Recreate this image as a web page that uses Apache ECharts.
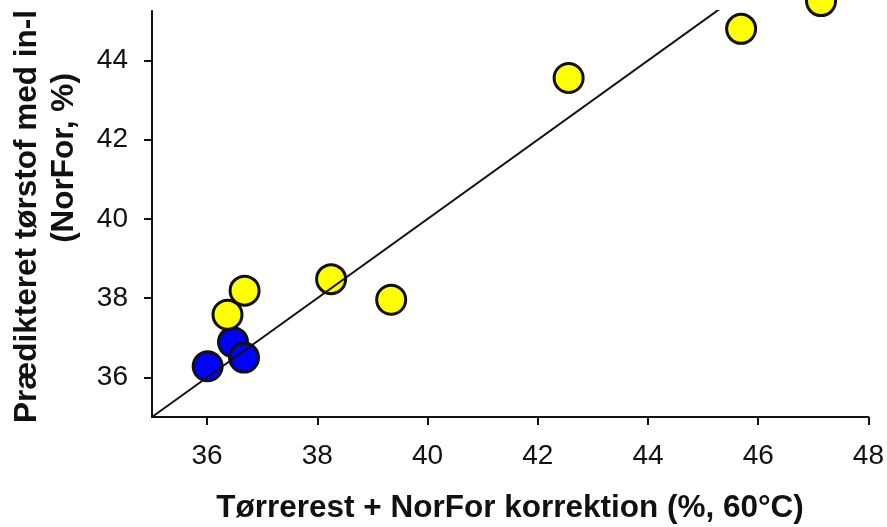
<!DOCTYPE html>
<html>
<head>
<meta charset="utf-8">
<script src="https://cdn.jsdelivr.net/npm/echarts@6/dist/echarts.min.js"></script>
<style>
html,body{margin:0;padding:0;background:#fff;}
#chart{width:887px;height:527px;}
</style>
</head>
<body>
<div id="chart"></div>
<script>
// Data
const blueX = [36.01, 36.47, 36.67];
const blueY = [36.28, 36.89, 36.50];
const yellowX = [36.37, 36.68, 38.25, 39.34, 42.56, 45.69, 47.14];
const yellowY = [37.58, 38.19, 38.48, 37.96, 43.56, 44.80, 45.50];
const refLineX = [35, 48];
const refLineY = [35, 48];
const xTicks = [36, 38, 40, 42, 44, 46, 48];
const yTicks = [36, 38, 40, 42, 44];
const xTitle = 'Tørrerest + NorFor korrektion (%, 60°C)';
const yTitle1 = 'Prædikteret tørstof med in-l';
const yTitle2 = '(NorFor, %)';

const pts = (xs, ys) => xs.map((x, i) => [x, ys[i]]);
const chart = echarts.init(document.getElementById('chart'), null, {renderer: 'canvas'});
const font = 'Arial, "Liberation Sans", sans-serif';

chart.setOption({
  animation: false,
  backgroundColor: '#fff',
  grid: {left: 152, right: 17, top: 11, bottom: 110, containLabel: false},
  xAxis: {
    type: 'value', min: 35, max: 48,
    splitLine: {show: false},
    axisLine: {show: true, onZero: false, lineStyle: {color: '#111', width: 2}},
    axisTick: {show: true, customValues: xTicks, length: 8, lineStyle: {color: '#111', width: 2}},
    axisLabel: {customValues: xTicks, fontSize: 28, fontFamily: font, color: '#111', margin: 25}
  },
  yAxis: {
    type: 'value', min: 35, max: 45.25,
    splitLine: {show: false},
    axisLine: {show: true, onZero: false, lineStyle: {color: '#111', width: 2}},
    axisTick: {show: true, customValues: yTicks, length: 8, lineStyle: {color: '#111', width: 2}},
    axisLabel: {customValues: yTicks, fontSize: 28, fontFamily: font, color: '#111', margin: 24}
  },
  graphic: [
    {type: 'text', x: 510, y: 508, style: {text: xTitle, fontSize: 31.5, fontWeight: 'bold', fontFamily: font, fill: '#111', textAlign: 'center', textVerticalAlign: 'middle'}},
    {type: 'text', x: 27, y: 423, rotation: Math.PI / 2, style: {text: yTitle1, fontSize: 31.5, fontWeight: 'bold', fontFamily: font, fill: '#111', textAlign: 'left', textVerticalAlign: 'middle'}},
    {type: 'text', x: 64, y: 158, rotation: Math.PI / 2, style: {text: yTitle2, fontSize: 31.5, fontWeight: 'bold', fontFamily: font, fill: '#111', textAlign: 'center', textVerticalAlign: 'middle'}}
  ],
  series: [
    {type: 'scatter', data: pts(blueX, blueY), symbol: 'circle', symbolSize: 29, clip: false, z: 2,
     itemStyle: {color: '#0000FF', borderColor: '#111', borderWidth: 3, opacity: 1}},
    {type: 'scatter', data: pts(yellowX, yellowY), symbol: 'circle', symbolSize: 29, clip: false, z: 2,
     itemStyle: {color: '#FFFF00', borderColor: '#111', borderWidth: 3, opacity: 1}},
    {type: 'line', data: pts(refLineX, refLineY), symbol: 'none', clip: true, z: 3,
     lineStyle: {color: '#111', width: 2}}
  ]
});
</script>
</body>
</html>
